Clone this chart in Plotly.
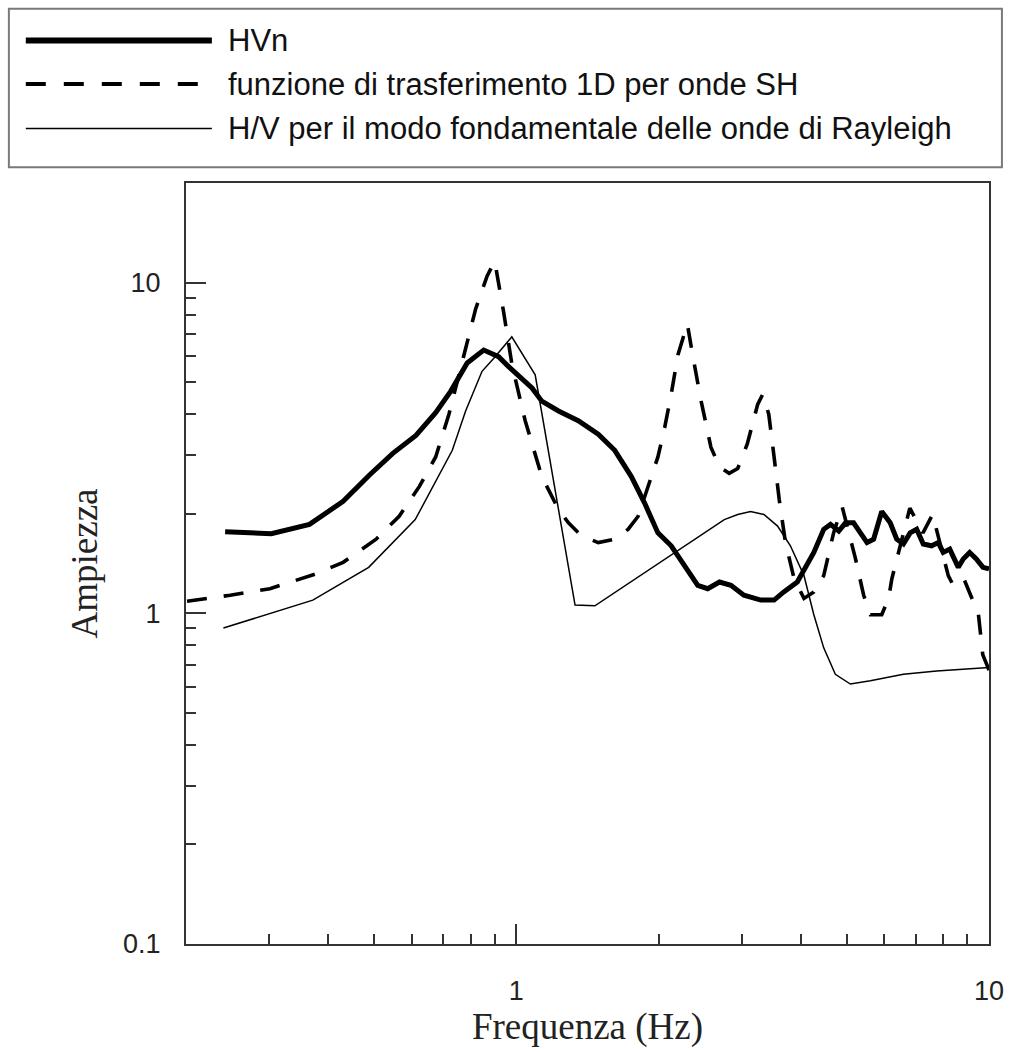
import plotly.graph_objects as go
import math

# ---------------- data ----------------
hvn_f = [0.242, 0.303, 0.365, 0.43, 0.489, 0.547, 0.613, 0.675, 0.726, 0.787, 0.853, 0.917, 0.963,
         1.079, 1.132, 1.228, 1.352, 1.49, 1.615, 1.751, 1.869, 1.993, 2.126, 2.269, 2.42, 2.54, 2.69,
         2.844, 3.03, 3.29, 3.51, 3.68, 3.93, 4.26, 4.47, 4.62, 4.81, 4.97, 5.17, 5.52, 5.70, 5.93, 6.18,
         6.38, 6.59, 6.81, 7.03, 7.26, 7.56, 7.81, 8.0, 8.26, 8.61, 8.82, 9.10, 9.40, 9.71, 10.0]
hvn_a = [1.764, 1.74, 1.857, 2.18, 2.62, 3.04, 3.45, 4.04, 4.69, 5.71, 6.25, 5.97, 5.57,
         4.80, 4.38, 4.09, 3.82, 3.48, 3.11, 2.59, 2.15, 1.75, 1.60, 1.39, 1.215, 1.187, 1.243,
         1.215, 1.134, 1.096, 1.096, 1.16, 1.243, 1.527, 1.794, 1.857, 1.773, 1.877, 1.877, 1.636, 1.675, 2.03, 1.877,
         1.675, 1.62, 1.75, 1.794, 1.62, 1.60, 1.636, 1.527, 1.563, 1.377, 1.46, 1.527, 1.46, 1.377, 1.362]

sh_f = [0.201, 0.248, 0.301, 0.377, 0.43, 0.505, 0.565, 0.623, 0.675, 0.72, 0.756, 0.82, 0.867, 0.9,
        0.94, 0.979, 1.044, 1.132, 1.228, 1.289, 1.374, 1.49, 1.615, 1.723, 1.81, 1.899, 1.993, 2.06,
        2.126, 2.197, 2.30, 2.36, 2.46, 2.58, 2.69, 2.82, 2.94, 3.08, 3.24, 3.32, 3.42, 3.51, 3.6, 3.71,
        3.87, 4.06, 4.26, 4.47, 4.69, 4.89, 5.21, 5.43, 5.61, 5.93, 6.13, 6.23, 6.5, 6.8, 7.25, 7.6,
        7.9, 8.2, 8.4, 8.85, 9.2, 9.5, 9.7, 10.0]
sh_a = [1.088, 1.134, 1.187, 1.316, 1.426, 1.675, 1.965, 2.415, 2.97, 4.0, 5.26, 8.32, 10.46, 11.6,
        8.13, 5.64, 3.82, 2.59, 2.06, 1.877, 1.713, 1.636, 1.675, 1.794, 1.965, 2.415, 2.97, 3.65,
        4.59, 6.04, 7.5, 6.04, 4.38, 3.18, 2.77, 2.65, 2.74, 3.25, 4.28, 4.59, 4.0, 2.97, 2.2, 1.636,
        1.272, 1.109, 1.16, 1.30, 1.75, 2.1, 1.476, 1.134, 0.99, 0.99, 1.109, 1.272, 1.6, 2.08, 1.75, 1.99,
        1.6, 1.3, 1.215, 1.27, 1.11, 0.99, 0.75, 0.673]

ray_f = [0.24, 0.371, 0.487, 0.611, 0.732, 0.781, 0.846, 0.896, 0.978, 1.096, 1.331, 1.466, 2.754,
         2.94, 3.13, 3.34, 3.57, 3.80, 4.06, 4.26, 4.47, 4.73, 5.09, 5.61, 6.59, 7.75, 10.0]
ray_a = [0.902, 1.096, 1.377, 1.92, 3.11, 4.09, 5.39, 5.9, 6.85, 5.26, 1.059, 1.053, 1.92,
         1.99, 2.03, 1.99, 1.835, 1.6, 1.30, 0.99, 0.786, 0.654, 0.611, 0.625, 0.654, 0.669, 0.685]

legend_labels = ["HVn",
                 "funzione di trasferimento 1D per onde SH",
                 "H/V per il modo fondamentale delle onde di Rayleigh"]
x_title = "Frequenza (Hz)"
y_title = "Ampiezza"

# ---------------- layout geometry ----------------
W, H = 1016, 1052
L, R, T, B = 186, 993, 183, 952
PW, PH = R - L, B - T


def px(x):
    return (x - L) / PW


def py(y):
    return (B - y) / PH


fig = go.Figure()
fig.add_trace(go.Scatter(x=sh_f, y=sh_a, mode="lines", name=legend_labels[1],
                         line=dict(color="black", width=3.6, dash="20px,17px")))
fig.add_trace(go.Scatter(x=ray_f, y=ray_a, mode="lines", name=legend_labels[2],
                         line=dict(color="black", width=1.5)))
fig.add_trace(go.Scatter(x=hvn_f, y=hvn_a, mode="lines", name=legend_labels[0],
                         line=dict(color="black", width=5)))

# manual legend (long line samples)
shapes = [dict(type="rect", xref="paper", yref="paper", x0=px(8), x1=px(1006), y0=py(167), y1=py(7),
               line=dict(color="#7a7a7a", width=2), fillcolor="white", layer="above")]
rows = [39, 83, 128]
styles = [dict(color="black", width=6), dict(color="black", width=4, dash="20px,18px"),
          dict(color="black", width=1.5)]
for yy, st in zip(rows, styles):
    shapes.append(dict(type="line", xref="paper", yref="paper", x0=px(25), x1=px(212), y0=py(yy), y1=py(yy),
                       line=st, layer="above"))
annotations = []
for yy, txt in zip(rows, legend_labels):
    annotations.append(dict(xref="paper", yref="paper", x=px(226), y=py(yy), xanchor="left", yanchor="middle",
                            text=txt, showarrow=False,
                            font=dict(family="Liberation Sans, Arial", size=31, color="#111")))

tickfont = dict(family="Liberation Sans, Arial", size=27, color="#222")
titlefont = dict(family="Liberation Serif, Times New Roman", size=37, color="#222")

fig.update_layout(
    width=W, height=H,
    margin=dict(l=L, r=W - R, t=T, b=H - B),
    paper_bgcolor="white", plot_bgcolor="white",
    showlegend=False,
    shapes=shapes,
    annotations=annotations,
)
fig.update_xaxes(
    type="log", range=[math.log10(0.2), 1],
    tickmode="array", tickvals=[1, 10], ticktext=["1", "10"],
    ticks="inside", ticklen=20, tickwidth=2, tickcolor="#333",
    minor=dict(tickmode="array", tickvals=[0.3, 0.4, 0.5, 0.6, 0.7, 0.8, 0.9, 2, 3, 4, 5, 6, 7, 8, 9],
               ticks="inside", ticklen=10, tickwidth=2, tickcolor="#333", showgrid=False),
    showgrid=False, zeroline=False,
    showline=True, linecolor="#333", linewidth=2, mirror=True,
    tickfont=tickfont, ticklabelstandoff=22,
    title=dict(text=x_title, font=titlefont, standoff=8),
)
fig.update_yaxes(
    type="log", range=[-1, math.log10(20)],
    tickmode="array", tickvals=[0.1, 1, 10], ticktext=["0.1", "1", "10"],
    ticks="inside", ticklen=20, tickwidth=2, tickcolor="#333",
    minor=dict(tickmode="array", tickvals=[0.2, 0.3, 0.4, 0.5, 0.6, 0.7, 0.8, 0.9, 2, 3, 4, 5, 6, 7, 8, 9],
               ticks="inside", ticklen=10, tickwidth=2, tickcolor="#333", showgrid=False),
    showgrid=False, zeroline=False,
    showline=True, linecolor="#333", linewidth=2, mirror=True,
    tickfont=tickfont, ticklabelstandoff=18,
    title=dict(text=y_title, font=titlefont, standoff=14),
)

fig.write_html("out.html")
